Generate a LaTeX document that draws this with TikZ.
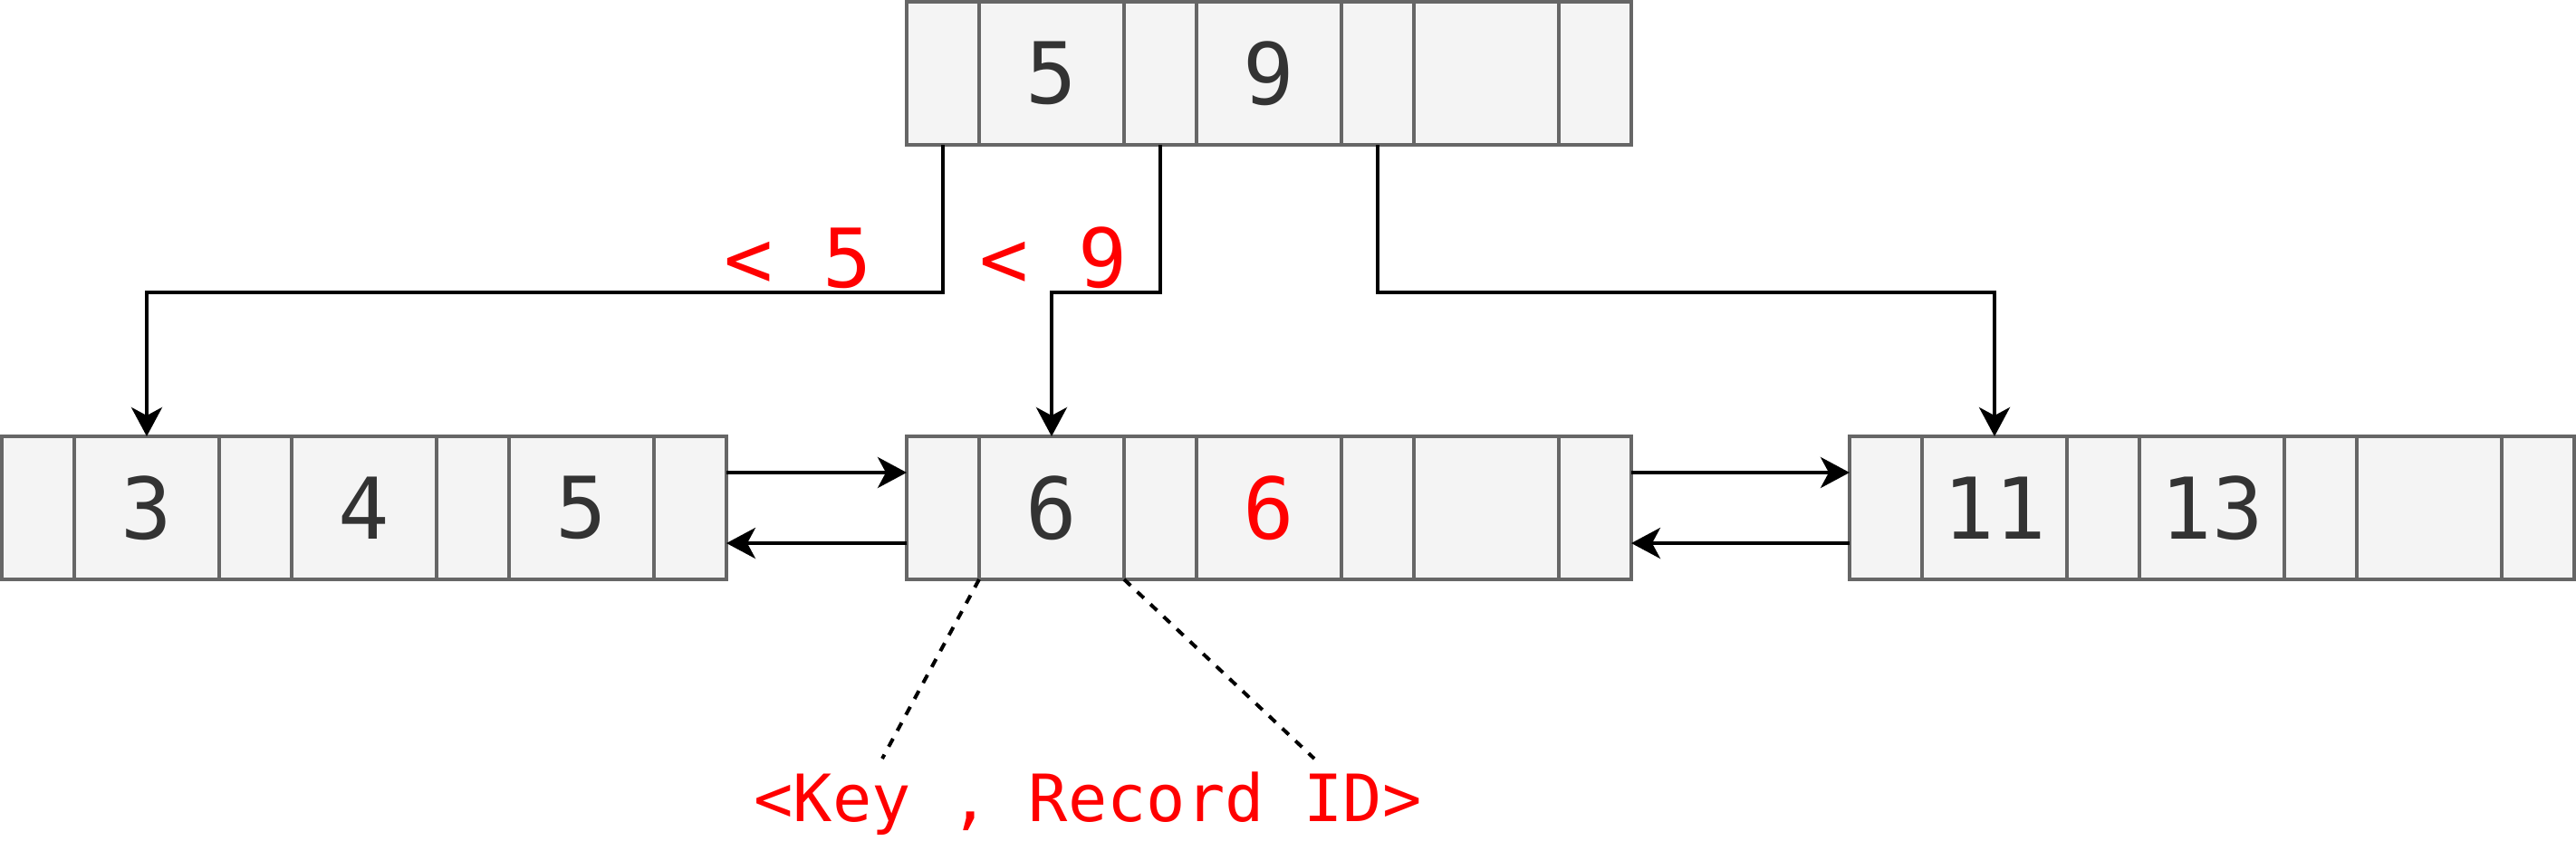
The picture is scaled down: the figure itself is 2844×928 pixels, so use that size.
\documentclass[tikz,border=0pt]{standalone}
\usepackage{fontspec}
\setmainfont{DejaVu Sans Mono}
\usetikzlibrary{arrows.meta}
\definecolor{cellfill}{HTML}{F4F4F4}
\definecolor{celldraw}{HTML}{666666}
\definecolor{celltext}{HTML}{333333}
\definecolor{keyred}{HTML}{FF0000}
\tikzset{
  cell/.style={draw=celldraw, fill=cellfill, line width=2pt, minimum height=79pt,
    inner sep=0pt, outer sep=0pt, text=celltext, font=\fontsize{47}{47}\selectfont},
  smallcell/.style={cell, minimum width=40pt},
  bigcell/.style={cell, minimum width=80pt},
  arr/.style={-{Stealth[length=16pt,width=17pt,inset=4.5pt]}, line width=2pt, black},
  dashline/.style={line width=2pt, dash pattern=on 5pt off 5pt, black},
  redlabel/.style={text=keyred, inner sep=0pt, anchor=base, font=\fontsize{45}{45}\selectfont},
  keylabel/.style={text=keyred, inner sep=0pt, anchor=base, font=\fontsize{36}{36}\selectfont}
}
\newcommand\bpnode[6]{%
  \node[smallcell, anchor=north west] (#1-1) at (#2,#3) {};
  \node[bigcell, anchor=north west] (#1-2) at (#1-1.north east) {#4};
  \node[smallcell, anchor=north west] (#1-3) at (#1-2.north east) {};
  \node[bigcell, anchor=north west] (#1-4) at (#1-3.north east) {#5};
  \node[smallcell, anchor=north west] (#1-5) at (#1-4.north east) {};
  \node[bigcell, anchor=north west] (#1-6) at (#1-5.north east) {#6};
  \node[smallcell, anchor=north west] (#1-7) at (#1-6.north east) {};
}
\begin{document}
\begin{tikzpicture}[x=0.5pt, y=-0.5pt]
  \useasboundingbox (0,0) rectangle (2844,928);
  % nodes
  \bpnode{T}{1001}{2}{5}{9}{}
  \bpnode{L}{2}{482}{3}{4}{5}
  \bpnode{M}{1001}{482}{6}{\textcolor{keyred}{6}}{}
  \bpnode{R}{2042}{482}{11}{13}{}
  % level of horizontal runs
  \coordinate (lvl) at (0,323);
  \draw[arr] (T-1.south) -- (T-1.south |- lvl) -| (L-2.north);
  \draw[arr] (T-3.south) -- (T-3.south |- lvl) -| (M-2.north);
  \draw[arr] (T-5.south) -- (T-5.south |- lvl) -| (R-2.north);
  % sibling links
  \draw[arr] ([yshift=-20pt]L-7.north east) -- ([yshift=-20pt]M-1.north west);
  \draw[arr] ([yshift=20pt]M-1.south west) -- ([yshift=20pt]L-7.south east);
  \draw[arr] ([yshift=-20pt]M-7.north east) -- ([yshift=-20pt]R-1.north west);
  \draw[arr] ([yshift=20pt]R-1.south west) -- ([yshift=20pt]M-7.south east);
  % labels
  \node[redlabel] (lt5) at (881,317) {< 5};
  \node[redlabel] (lt9) at (1163,317) {< 9};
  \node[keylabel] (key) at (1201,907) {<Key , Record ID>};
  \coordinate (kl) at (974,838);
  \coordinate (kr) at (1451,838);
  \draw[dashline] (M-2.south west) -- (kl);
  \draw[dashline] (M-2.south east) -- (kr);
\end{tikzpicture}
\end{document}
